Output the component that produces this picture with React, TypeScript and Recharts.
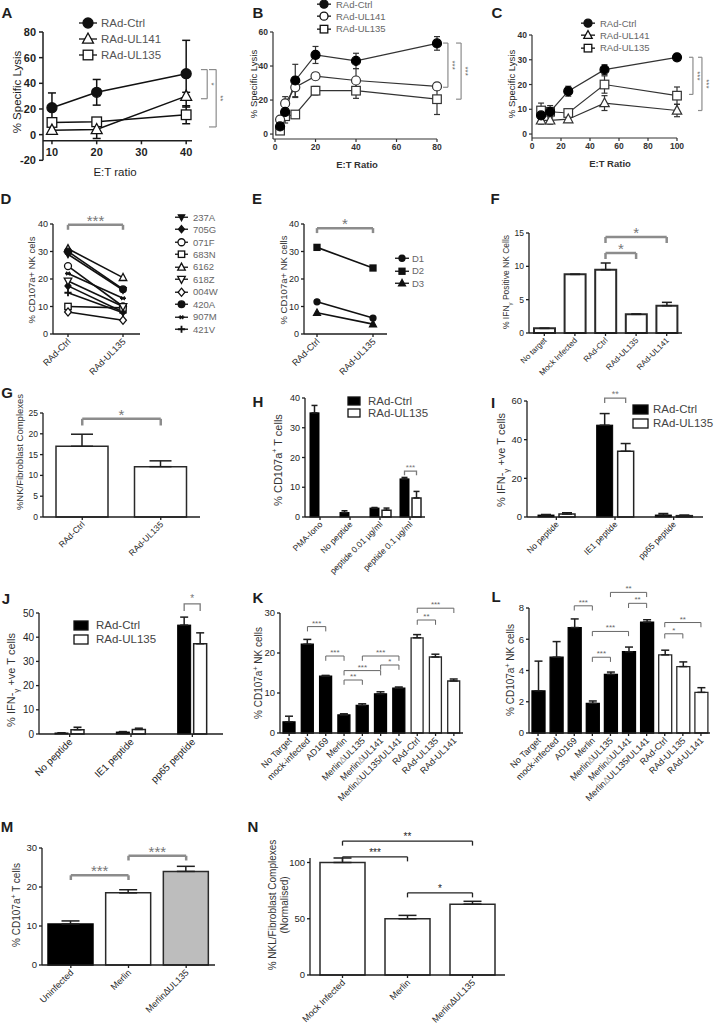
import React from "react";
import {
  LineChart,
  Line,
  BarChart,
  Bar,
  XAxis,
  YAxis,
  ErrorBar,
  ReferenceLine,
  Legend,
  Cell,
} from "recharts";

const FONT = "'Liberation Sans', Arial, Helvetica, sans-serif";
const INK = "#1e1e1e";

// ---- A: specific lysis vs E:T ratio
const aRatio = [10, 20, 40];
const aCtrl = [21, 33, 47.5];
const aCtrlErr = [11.5, 10, 26];
const aUL141 = [3.5, 4, 30];
const aUL141Err = [3, 7, 3];
const aUL135 = [9.5, 10, 15.5];
const aUL135Err = [3, 2, 7];
const aTicksX = [10, 20, 30, 40];
const aTicksY = [-20, 0, 20, 40, 60, 80];

// ---- B
const bRatio = [2.5, 5, 10, 20, 40, 80];
const bCtrl = [4.5, 13, 31.5, 46.5, 43, 53.3];
const bCtrlErr = [2, 4, 9.5, 5, 4.5, 4];
const bUL141 = [8.5, 18, 27.5, 34, 31.5, 28];
const bUL141Err = [1.5, 4, 6, 2, 7, 2];
const bUL135 = [2, 10.5, 11.5, 25.5, 25.5, 20.5];
const bUL135Err = [1, 4, 2, 2.5, 4.5, 9];
const bTicksX = [0, 20, 40, 60, 80];
const bTicksY = [0, 20, 40, 60];

// ---- C
const cRatio = [6.25, 12.5, 25, 50, 100];
const cCtrl = [7.5, 9, 17.3, 26, 31];
const cCtrlErr = [1, 1, 2, 2, 0.5];
const cUL141 = [5.5, 5.5, 6, 12.5, 9.5];
const cUL141Err = [1.5, 1.5, 1, 3, 2.5];
const cUL135 = [9.5, 9, 8.5, 20, 15.5];
const cUL135Err = [3, 2.5, 1.5, 3.5, 3.5];
const cTicksX = [0, 20, 40, 60, 80, 100];
const cTicksY = [0, 10, 20, 30, 40];

// ---- D / E: paired donors
const pairCats = ["RAd-Ctrl", "RAd-UL135"];
const dDonors = ["237A", "705G", "071F", "683N", "6162", "618Z", "004W", "420A", "907M", "421V"];
const dCtrl = [29, 17.5, 24.7, 10, 31, 19.3, 8, 30, 22, 15];
const dUL135 = [16, 8, 10, 9.5, 20.5, 10, 5, 16.3, 13, 7.7];
const eDonors = ["D1", "D2", "D3"];
const eCtrl = [11.7, 31.5, 7.7];
const eUL135 = [5.8, 24, 3.6];
const deTicksY = [0, 10, 20, 30, 40];

// ---- F
const fCats = ["No target", "Mock Infected", "RAd-Ctrl", "RAd-UL135", "RAd-UL141"];
const fVals = [0.7, 8.8, 9.5, 2.8, 4.1];
const fErr = [0, 0, 1, 0.05, 0.5];
const fTicksY = [0, 5, 10, 15];

// ---- G
const gCats = ["RAd-Ctrl", "RAd-UL135"];
const gVals = [17, 12.1];
const gErr = [2.9, 1.4];
const gTicksY = [0, 5, 10, 15, 20, 25];

// ---- H
const hCats = ["PMA-Iono", "No peptide", "peptide 0.01 µg/ml", "peptide 0.1 µg/ml"];
const hCtrl = [35, 1.5, 3, 12.8];
const hCtrlErr = [2.5, 0.6, 0.2, 0.5];
const hUL135 = [0, 0, 2.3, 6.4];
const hUL135Err = [0, 0, 0.7, 2.2];
const hSig = ["", "", "", "***"];
const hSigY = [0, 0, 0, 15.4];
const hTicksY = [0, 10, 20, 30, 40];

// ---- I
const iCats = ["No peptide", "IE1 peptide", "pp65 peptide"];
const iCtrl = [1, 47.5, 1];
const iCtrlErr = [0.3, 6, 0.8];
const iUL135 = [1.5, 34, 0.7];
const iUL135Err = [0.7, 4, 0.3];
const iSig = ["", "**", ""];
const iSigY = [0, 61.5, 0];
const iTicksY = [0, 20, 40, 60];

// ---- J
const jCats = ["No peptide", "IE1 peptide", "pp65 peptide"];
const jCtrl = [0.4, 0.8, 45];
const jCtrlErr = [0.1, 0.2, 3.3];
const jUL135 = [1.8, 1.9, 37.3];
const jUL135Err = [1, 0.5, 4.5];
const jSig = ["", "", "*"];
const jSigY = [0, 0, 53.8];
const jTicksY = [0, 10, 20, 30, 40, 50];

// ---- K / L
const klCats = [
  "No Target",
  "mock-infected",
  "AD169",
  "Merlin",
  "Merlin∆UL135",
  "Merlin∆UL141",
  "Merlin∆UL135/UL141",
  "RAd-Ctrl",
  "RAd-UL135",
  "RAd-UL141",
];
const kVals = [2.8, 22.2, 14.2, 4.5, 6.9, 9.8, 11.2, 23.8, 19, 13];
const kErr = [1.4, 1.2, 0.2, 0.3, 0.4, 0.5, 0.3, 0.8, 0.7, 0.5];
const kTicksY = [0, 10, 20, 30];
const kBrackets = [
  { a: 1, b: 2, y: 26.6, t: "***" },
  { a: 2, b: 3, y: 19.25, t: "***" },
  { a: 3, b: 5, y: 15.6, t: "***" },
  { a: 3, b: 4, y: 13.25, t: "**" },
  { a: 4, b: 6, y: 19.25, t: "***" },
  { a: 5, b: 6, y: 17, t: "*" },
  { a: 7, b: 9, y: 31.2, t: "***" },
  { a: 7, b: 8, y: 28.25, t: "**" },
];
const lVals = [2.7, 4.85, 6.75, 1.9, 3.75, 5.2, 7.1, 5, 4.25, 2.6];
const lErr = [1.9, 1, 0.55, 0.15, 0.15, 0.3, 0.15, 0.3, 0.3, 0.3];
const lTicksY = [0, 2, 4, 6, 8];
const lBrackets = [
  { a: 2, b: 3, y: 8.14, t: "***" },
  { a: 4, b: 6, y: 9.0, t: "**" },
  { a: 5, b: 6, y: 8.3, t: "**" },
  { a: 3, b: 5, y: 6.5, t: "***" },
  { a: 3, b: 4, y: 4.85, t: "***" },
  { a: 7, b: 9, y: 7.07, t: "**" },
  { a: 7, b: 8, y: 6.35, t: "*" },
];

// ---- M / N
const mCats = ["Uninfected", "Merlin", "Merlin∆UL135"];
const mVals = [10.5, 18.5, 24];
const mErr = [0.8, 0.8, 1.3];
const mTicksY = [0, 10, 20, 30];
const mBrackets = [
  { a: 0, b: 1, y: 23, t: "***" },
  { a: 1, b: 2, y: 28, t: "***" },
];
const nCats = ["Mock Infected", "Merlin", "Merlin∆UL135"];
const nVals = [100, 50, 63];
const nErr = [4, 3, 2.5];
const nTicksY = [0, 50, 100];
const nBrackets = [
  { a: 0, b: 2, y: 119, t: "**" },
  { a: 0, b: 1, y: 105, t: "***" },
  { a: 1, b: 2, y: 73, t: "*" },
];

// ---------------- helpers ----------------
type Pad = { l: number; t: number; r: number; b: number };
function frame(x0: number, y0: number, x1: number, y1: number, p: Pad) {
  return {
    left: x0 - p.l,
    top: y0 - p.t,
    width: x1 - x0 + p.l + p.r,
    height: y1 - y0 + p.t + p.b,
    margin: { top: p.t, right: p.r, left: 0, bottom: 0 },
    yw: p.l,
    xh: p.b,
  };
}

function Txt({ x, y, size = 11, bold = false, rot = 0, color = INK, children }: any) {
  return (
    <div
      style={{
        position: "absolute",
        left: x,
        top: y,
        transform: `translate(-50%, -50%) rotate(${rot}deg)`,
        fontSize: size,
        fontWeight: bold ? 700 : 400,
        color,
        whiteSpace: "nowrap",
        lineHeight: 1.15,
        textAlign: "center",
      }}
    >
      {children}
    </div>
  );
}

function Marker({ cx, cy, shape, r, color = "#111", sw = 1.3 }: any) {
  if (cx == null || cy == null) return null;
  const W = "#fff";
  const tri = (s: number) =>
    `${cx},${cy - s * r * 1.15} ${cx - r * 1.05},${cy + s * r * 0.8} ${cx + r * 1.05},${cy + s * r * 0.8}`;
  const dia = `${cx},${cy - r * 1.2} ${cx + r},${cy} ${cx},${cy + r * 1.2} ${cx - r},${cy}`;
  switch (shape) {
    case "dot":
      return <circle cx={cx} cy={cy} r={r} fill={color} stroke={color} strokeWidth={sw} />;
    case "circle":
      return <circle cx={cx} cy={cy} r={r} fill={W} stroke={color} strokeWidth={sw} />;
    case "square":
      return <rect x={cx - r} y={cy - r} width={2 * r} height={2 * r} fill={W} stroke={color} strokeWidth={sw} />;
    case "fsquare":
      return <rect x={cx - r} y={cy - r} width={2 * r} height={2 * r} fill={color} stroke={color} strokeWidth={sw} />;
    case "tri":
      return <polygon points={tri(1)} fill={W} stroke={color} strokeWidth={sw} />;
    case "ftri":
      return <polygon points={tri(1)} fill={color} stroke={color} strokeWidth={sw} />;
    case "itri":
      return <polygon points={tri(-1)} fill={W} stroke={color} strokeWidth={sw} />;
    case "fitri":
      return <polygon points={tri(-1)} fill={color} stroke={color} strokeWidth={sw} />;
    case "diamond":
      return <polygon points={dia} fill={W} stroke={color} strokeWidth={sw} />;
    case "fdiamond":
      return <polygon points={dia} fill={color} stroke={color} strokeWidth={sw} />;
    case "plus":
      return (
        <path d={`M${cx - r},${cy}H${cx + r}M${cx},${cy - r}V${cy + r}`} stroke={color} strokeWidth={sw * 1.4} />
      );
    default:
      return (
        <path
          d={`M${cx - r},${cy}H${cx + r}M${cx - r * 0.6},${cy - r * 0.6}L${cx + r * 0.6},${cy + r * 0.6}M${cx - r * 0.6},${cy + r * 0.6}L${cx + r * 0.6},${cy - r * 0.6}`}
          stroke={color}
          strokeWidth={sw}
        />
      );
  }
}

const dotFn = (shape: string, r: number, color = "#111", sw = 1.3) => (p: any) =>
  <Marker key={`m${p.index}`} cx={p.cx} cy={p.cy} shape={shape} r={r} color={color} sw={sw} />;

function lineLegend(keys: string[], st: Record<string, any>, o: any) {
  return (props: any) => {
    const pl: any[] = props.payload || [];
    const w = o.lineW + 4;
    return (
      <div style={{ fontSize: o.fs, color: o.color || "#555", fontFamily: FONT }}>
        {keys.map((k) => {
          const e = pl.find((q) => q.dataKey === k);
          if (!e) return null;
          const s = st[k];
          return (
            <div key={k} style={{ display: "flex", alignItems: "center", height: o.rowH, whiteSpace: "nowrap" }}>
              <svg width={w} height={o.rowH} style={{ marginRight: o.gap, flex: "none" }}>
                <line x1={2} x2={w - 2} y1={o.rowH / 2} y2={o.rowH / 2} stroke="#111" strokeWidth={1.3} />
                <Marker cx={w / 2} cy={o.rowH / 2} shape={s.shape} r={s.lr ?? s.r} />
              </svg>
              <span>{e.value}</span>
            </div>
          );
        })}
      </div>
    );
  };
}

function barLegend(keys: string[], fills: Record<string, string>, o: any) {
  return (props: any) => {
    const pl: any[] = props.payload || [];
    return (
      <div style={{ fontSize: o.fs, color: "#444", fontFamily: FONT }}>
        {keys.map((k) => {
          const e = pl.find((q) => q.dataKey === k);
          if (!e) return null;
          return (
            <div key={k} style={{ display: "flex", alignItems: "center", height: o.rowH, whiteSpace: "nowrap" }}>
              <svg width={o.sw + 2} height={o.sh + 2} style={{ marginRight: o.gap, flex: "none" }}>
                <rect x={1} y={1} width={o.sw} height={o.sh} fill={fills[k]} stroke="#111" strokeWidth={1.3} />
              </svg>
              <span>{e.value}</span>
            </div>
          );
        })}
      </div>
    );
  };
}

const legendPos = (f: any, x: number, y: number) => ({ left: x - f.left, top: y - f.top, width: "auto" });

const BR_THICK = { c: "#8c8c8c", w: 2.5, fs: 15, tc: "#777", off: -1 };
const BR_THIN = { c: "#666", w: 1, fs: 8, tc: "#666", off: 1 };
const BR_V = { c: "#8c8c8c", w: 1.2, fs: 8, tc: "#666" };

function hBracket(key: string, a: any, b: any, y: number, drop: number, text: string, st: any) {
  const common: any = { stroke: st.c, strokeWidth: st.w, ifOverflow: "visible" };
  return [
    <ReferenceLine
      key={key + "h"}
      segment={[{ x: a, y }, { x: b, y }]}
      {...common}
      label={{ value: text, position: "top", fill: st.tc, fontSize: st.fs, offset: st.off }}
    />,
    <ReferenceLine key={key + "l"} segment={[{ x: a, y }, { x: a, y: y - drop }]} {...common} />,
    <ReferenceLine key={key + "r"} segment={[{ x: b, y }, { x: b, y: y - drop }]} {...common} />,
  ];
}

function vBracket(key: string, x: number, tip: number, y1: number, y2: number, text: string, st: any) {
  const common: any = { stroke: st.c, strokeWidth: st.w, ifOverflow: "visible" };
  const star = (lp: any) => {
    const vb = lp.viewBox || {};
    const cx = (vb.x || 0) + 2;
    const cy = (vb.y || 0) + (vb.height || 0) / 2;
    return (
      <text x={cx} y={cy} transform={`rotate(90 ${cx} ${cy})`} textAnchor="middle" fontSize={st.fs} fill={st.tc}>
        {text}
      </text>
    );
  };
  return [
    <ReferenceLine key={key + "v"} segment={[{ x, y: y1 }, { x, y: y2 }]} {...common} label={{ content: star }} />,
    <ReferenceLine key={key + "t"} segment={[{ x: tip, y: y1 }, { x, y: y1 }]} {...common} />,
    <ReferenceLine key={key + "b"} segment={[{ x: tip, y: y2 }, { x, y: y2 }]} {...common} />,
  ];
}

const rotTick = (fs: number, delta = "#9a9a9a") => (p: any) => {
  const v = String(p.payload.value);
  const i = v.indexOf("∆");
  return (
    <text
      x={p.x}
      y={p.y}
      transform={`rotate(-45 ${p.x} ${p.y})`}
      textAnchor="end"
      dy="0.5em"
      fontSize={fs}
      fill={INK}
    >
      {i < 0 ? (
        v
      ) : (
        <>
          {v.slice(0, i)}
          <tspan fill={delta}>∆</tspan>
          {v.slice(i + 1)}
        </>
      )}
    </text>
  );
};

const axStyle = (w = 1.3, c = INK) => ({ stroke: c, strokeWidth: w });

// ---------------- line panels ----------------
const abcStyle: Record<string, any> = {
  ctrl: { shape: "dot", r: 4.5 },
  ul141: { shape: "tri", r: 4.6 },
  ul141c: { shape: "circle", r: 4.5 },
  ul135: { shape: "square", r: 4.3 },
};

function PanelA() {
  const f = frame(43, 31.7, 192, 160, { l: 40, t: 30, r: 50, b: 30 });
  const rows = aRatio.map((x, i) => ({
    x,
    ctrl: aCtrl[i],
    ctrlErr: aCtrlErr[i],
    ul141: aUL141[i],
    ul141Err: aUL141Err[i],
    ul135: aUL135[i],
    ul135Err: aUL135Err[i],
  }));
  const lift = 20;
  const tick = (p: any) => (
    <g>
      <line x1={p.x} x2={p.x} y1={p.y - lift} y2={p.y - lift + 4} stroke={INK} strokeWidth={1.5} />
      <text x={p.x} y={p.y - lift + 16} textAnchor="middle" fontSize={11} fontWeight={700} fill={INK}>
        {p.payload.value}
      </text>
    </g>
  );
  const st = { ctrl: { shape: "dot", r: 5 }, ul141: { shape: "tri", r: 5.2 }, ul135: { shape: "square", r: 4.8 } };
  return (
    <>
      <div style={{ position: "absolute", left: f.left, top: f.top }}>
        <LineChart width={f.width} height={f.height} data={rows} margin={f.margin}>
          <XAxis
            type="number"
            dataKey="x"
            domain={[8, 41.3]}
            ticks={aTicksX}
            interval={0}
            height={f.xh}
            axisLine={false}
            tickLine={false}
            tickSize={0}
            tickMargin={0}
            tick={tick}
          />
          <YAxis
            type="number"
            domain={[-20, 80]}
            ticks={aTicksY}
            interval={0}
            width={f.yw}
            axisLine={axStyle(1.5)}
            tickLine={axStyle(1.5)}
            tickSize={4}
            tickMargin={3}
            tick={{ fontSize: 11, fontWeight: 700, fill: INK }}
          />
          <ReferenceLine segment={[{ x: 8, y: -4.7 }, { x: 41.3, y: -4.7 }]} stroke={INK} strokeWidth={1.5} ifOverflow="visible" />
          {vBracket("a1", 44.7, 43.3, 50.7, 28, "*", BR_V)}
          {vBracket("a2", 46.7, 45.1, 50.7, 6, "**", BR_V)}
          <Line dataKey="ul135" name="RAd-UL135" stroke="#111" strokeWidth={1.5} isAnimationActive={false} activeDot={false} dot={dotFn("square", 4.8)}>
            <ErrorBar dataKey="ul135Err" direction="y" width={4} stroke="#111" strokeWidth={1.5} isAnimationActive={false} />
          </Line>
          <Line dataKey="ul141" name="RAd-UL141" stroke="#111" strokeWidth={1.5} isAnimationActive={false} activeDot={false} dot={dotFn("tri", 5.2)}>
            <ErrorBar dataKey="ul141Err" direction="y" width={4} stroke="#111" strokeWidth={1.5} isAnimationActive={false} />
          </Line>
          <Line dataKey="ctrl" name="RAd-Ctrl" stroke="#111" strokeWidth={1.5} isAnimationActive={false} activeDot={false} dot={dotFn("dot", 5)}>
            <ErrorBar dataKey="ctrlErr" direction="y" width={4} stroke="#111" strokeWidth={1.5} isAnimationActive={false} />
          </Line>
          <Legend
            layout="vertical"
            align="center"
            verticalAlign="middle"
            wrapperStyle={legendPos(f, 77, 15)}
            content={lineLegend(["ctrl", "ul141", "ul135"], st, { fs: 11.5, rowH: 16, lineW: 18, gap: 2 })}
          />
        </LineChart>
      </div>
      <Txt x={18} y={92} size={11.5} rot={-90}>% Specific Lysis</Txt>
      <Txt x={115} y={173} size={11.5}>E:T ratio</Txt>
    </>
  );
}

function SmallLines({ f, ratio, ctrl, ctrlErr, o141, o141Err, o135, o135Err, xDom, xTicks, yDom, yTicks, shape141, leg, brs }: any) {
  const rows = ratio.map((x: number, i: number) => ({
    x,
    ctrl: ctrl[i],
    ctrlErr: ctrlErr[i],
    ul141: o141[i],
    ul141Err: o141Err[i],
    ul135: o135[i],
    ul135Err: o135Err[i],
  }));
  const st = { ctrl: { shape: "dot", r: 4.5, lr: 4 }, ul141: { shape: shape141, r: 4.5, lr: 4 }, ul135: { shape: "square", r: 4.3, lr: 3.8 } };
  const lc = "#333";
  return (
    <div style={{ position: "absolute", left: f.left, top: f.top }}>
      <LineChart width={f.width} height={f.height} data={rows} margin={f.margin}>
        <XAxis
          type="number"
          dataKey="x"
          domain={xDom}
          ticks={xTicks}
          interval={0}
          height={f.xh}
          axisLine={axStyle(1.2, "#333")}
          tickLine={axStyle(1.2, "#333")}
          tickSize={3}
          tickMargin={2}
          tick={{ fontSize: 8.5, fontWeight: 700, fill: "#333" }}
        />
        <YAxis
          type="number"
          domain={yDom}
          ticks={yTicks}
          interval={0}
          width={f.yw}
          axisLine={axStyle(1.2, "#333")}
          tickLine={axStyle(1.2, "#333")}
          tickSize={3}
          tickMargin={2}
          tick={{ fontSize: 8.5, fontWeight: 700, fill: "#333" }}
        />
        {brs}
        <Line dataKey="ul135" name="RAd-UL135" stroke={lc} strokeWidth={1.2} isAnimationActive={false} activeDot={false} dot={dotFn("square", 4.3, lc, 1.2)}>
          <ErrorBar dataKey="ul135Err" direction="y" width={3} stroke={lc} strokeWidth={1.2} isAnimationActive={false} />
        </Line>
        <Line dataKey="ul141" name="RAd-UL141" stroke={lc} strokeWidth={1.2} isAnimationActive={false} activeDot={false} dot={dotFn(shape141, 4.5, lc, 1.2)}>
          <ErrorBar dataKey="ul141Err" direction="y" width={3} stroke={lc} strokeWidth={1.2} isAnimationActive={false} />
        </Line>
        <Line dataKey="ctrl" name="RAd-Ctrl" stroke={lc} strokeWidth={1.2} isAnimationActive={false} activeDot={false} dot={dotFn("dot", 4.5, "#000", 1.2)}>
          <ErrorBar dataKey="ctrlErr" direction="y" width={3} stroke={lc} strokeWidth={1.2} isAnimationActive={false} />
        </Line>
        <Legend
          layout="vertical"
          align="center"
          verticalAlign="middle"
          wrapperStyle={legendPos(f, leg[0], leg[1])}
          content={lineLegend(["ctrl", "ul141", "ul135"], st, { fs: 9.5, rowH: 12.3, lineW: 14, gap: 3, color: "#666" })}
        />
      </LineChart>
    </div>
  );
}

function PanelB() {
  const f = frame(273, 32, 437, 139, { l: 30, t: 32, r: 40, b: 35 });
  return (
    <>
      <SmallLines
        f={f}
        ratio={bRatio}
        ctrl={bCtrl}
        ctrlErr={bCtrlErr}
        o141={bUL141}
        o141Err={bUL141Err}
        o135={bUL135}
        o135Err={bUL135Err}
        xDom={[-1, 80]}
        xTicks={bTicksX}
        yDom={[-2.9, 60]}
        yTicks={bTicksY}
        shape141="circle"
        leg={[315, -2]}
        brs={[...vBracket("b1", 85.4, 83, 53.5, 27.5, "***", BR_V), ...vBracket("b2", 91.9, 89.4, 53.5, 20.5, "***", BR_V)]}
      />
      <Txt x={254} y={84} size={9.5} rot={-90}>% Specific Lysis</Txt>
      <Txt x={357} y={165} size={9.5} bold color="#333">E:T Ratio</Txt>
    </>
  );
}

function PanelC() {
  const f = frame(532, 35, 677, 138, { l: 30, t: 30, r: 40, b: 35 });
  return (
    <>
      <SmallLines
        f={f}
        ratio={cRatio}
        ctrl={cCtrl}
        ctrlErr={cCtrlErr}
        o141={cUL141}
        o141Err={cUL141Err}
        o135={cUL135}
        o135Err={cUL135Err}
        xDom={[0, 100]}
        xTicks={cTicksX}
        yDom={[-1.6, 40]}
        yTicks={cTicksY}
        shape141="tri"
        leg={[579, 17]}
        brs={[...vBracket("c1", 111, 108.3, 31, 16, "***", BR_V), ...vBracket("c2", 117.2, 114.5, 31, 9.5, "***", BR_V)]}
      />
      <Txt x={512} y={84} size={9.5} rot={-90}>% Specific Lysis</Txt>
      <Txt x={610} y={164} size={9.5} bold color="#333">E:T Ratio</Txt>
    </>
  );
}

// ---------------- paired donor panels ----------------
const dStyle: Record<string, any> = {
  "237A": { shape: "fitri", r: 3 },
  "705G": { shape: "fdiamond", r: 3 },
  "071F": { shape: "circle", r: 3.5 },
  "683N": { shape: "square", r: 3.2 },
  "6162": { shape: "tri", r: 3.6 },
  "618Z": { shape: "itri", r: 3.6 },
  "004W": { shape: "diamond", r: 3.4 },
  "420A": { shape: "dot", r: 3.3 },
  "907M": { shape: "star", r: 3 },
  "421V": { shape: "plus", r: 3.6 },
};
const eStyle: Record<string, any> = {
  D1: { shape: "dot", r: 3 },
  D2: { shape: "fsquare", r: 3 },
  D3: { shape: "ftri", r: 3.3 },
};

function Paired({ f, donors, ctrl, ul, style, pad, br, leg, legOpt }: any) {
  const rows = pairCats.map((cat, j) => {
    const r: any = { cat };
    donors.forEach((d: string, i: number) => (r[d] = j === 0 ? ctrl[i] : ul[i]));
    return r;
  });
  return (
    <div style={{ position: "absolute", left: f.left, top: f.top }}>
      <LineChart width={f.width} height={f.height} data={rows} margin={f.margin}>
        <XAxis
          dataKey="cat"
          type="category"
          scale="point"
          padding={pad}
          interval={0}
          height={f.xh}
          axisLine={axStyle(1.3)}
          tickLine={axStyle(1.3)}
          tickSize={3}
          tickMargin={2}
          tick={rotTick(9)}
        />
        <YAxis
          type="number"
          domain={[0, 40]}
          ticks={deTicksY}
          interval={0}
          width={f.yw}
          axisLine={axStyle(1.3)}
          tickLine={axStyle(1.3)}
          tickSize={3}
          tickMargin={2}
          tick={{ fontSize: 9, fill: INK }}
        />
        {hBracket("pb", pairCats[0], pairCats[1], br.y, 1.8, br.t, BR_THICK)}
        {donors.map((d: string) => (
          <Line
            key={d}
            dataKey={d}
            name={d}
            stroke="#111"
            strokeWidth={1.6}
            isAnimationActive={false}
            activeDot={false}
            dot={dotFn(style[d].shape, style[d].r)}
          />
        ))}
        <Legend
          layout="vertical"
          align="center"
          verticalAlign="middle"
          wrapperStyle={legendPos(f, leg[0], leg[1])}
          content={lineLegend(donors, style, legOpt)}
        />
      </LineChart>
    </div>
  );
}

function PanelD() {
  const f = frame(53, 224, 140, 334, { l: 30, t: 20, r: 90, b: 60 });
  return (
    <>
      <Paired
        f={f}
        donors={dDonors}
        ctrl={dCtrl}
        ul={dUL135}
        style={dStyle}
        pad={{ left: 15, right: 17 }}
        br={{ y: 39.7, t: "***" }}
        leg={[173, 211]}
        legOpt={{ fs: 9.5, rowH: 12.45, lineW: 13, gap: 3, color: "#666" }}
      />
      <Txt x={32} y={280} size={9.5} rot={-90} color="#333">% CD107a+ NK cels</Txt>
    </>
  );
}

function PanelE() {
  const f = frame(304, 224, 387, 334, { l: 30, t: 20, r: 60, b: 60 });
  return (
    <>
      <Paired
        f={f}
        donors={eDonors}
        ctrl={eCtrl}
        ul={eUL135}
        style={eStyle}
        pad={{ left: 13, right: 14 }}
        br={{ y: 38.5, t: "*" }}
        leg={[393, 252]}
        legOpt={{ fs: 9.5, rowH: 12.5, lineW: 14, gap: 1, color: "#666" }}
      />
      <Txt x={284} y={280} size={9.5} rot={-90} color="#333">% CD107a+ NK cells</Txt>
    </>
  );
}

// ---------------- bar panels ----------------
function SimpleBars({ rect, pad, cats, vals, errs, fills, domain, ticks, barSize, sw = 1.5, tickFs = 9, catFs = 9, errW = 5, brackets = [], drop = 1, br, delta }: any) {
  const f = frame(rect[0], rect[1], rect[2], rect[3], pad);
  const rows = cats.map((cat: string, i: number) => ({ cat, v: vals[i], e: [0, errs[i]] }));
  return (
    <div style={{ position: "absolute", left: f.left, top: f.top }}>
      <BarChart width={f.width} height={f.height} data={rows} margin={f.margin}>
        <XAxis
          dataKey="cat"
          interval={0}
          height={f.xh}
          axisLine={axStyle(1.3)}
          tickLine={axStyle(1.3)}
          tickSize={3}
          tickMargin={2}
          tick={rotTick(catFs, delta)}
        />
        <YAxis
          type="number"
          domain={domain}
          ticks={ticks}
          interval={0}
          width={f.yw}
          axisLine={axStyle(1.3)}
          tickLine={axStyle(1.3)}
          tickSize={3}
          tickMargin={2}
          tick={{ fontSize: tickFs, fill: INK }}
        />
        <Bar dataKey="v" barSize={barSize} stroke={INK} strokeWidth={sw} isAnimationActive={false}>
          {rows.map((r: any, i: number) => (
            <Cell key={r.cat} fill={fills[i]} stroke={fills[i] === "#000" ? "#000" : "#2a2a2a"} />
          ))}
          <ErrorBar dataKey="e" direction="y" width={errW} stroke={INK} strokeWidth={1.5} isAnimationActive={false} />
        </Bar>
        {brackets.map((b: any, i: number) => hBracket(`k${i}`, cats[b.a], cats[b.b], b.y, drop, b.t, br))}
      </BarChart>
    </div>
  );
}

function GroupBars({ rect, pad, cats, ctrl, ctrlErr, ul, ulErr, sig, sigY, drop, domain, ticks, barSize, barGap, tickFs, catFs, errW, leg, legOpt, sigFs }: any) {
  const f = frame(rect[0], rect[1], rect[2], rect[3], pad);
  const rows = cats.map((cat: string, i: number) => ({
    cat,
    ctrl: ctrl[i],
    ctrlE: [0, ctrlErr[i]],
    ul: ul[i],
    ulE: [0, ulErr[i]],
    sig: sig[i],
    sigY: sigY[i],
  }));
  const shape = (p: any) => {
    const { x, y, width, height, payload } = p;
    const out = [<rect key="r" x={x} y={y} width={width} height={Math.max(height, 0)} fill="#000" stroke="#000" strokeWidth={1} />];
    if (payload && payload.sig && payload.ctrl > 0) {
      const k = height / payload.ctrl;
      const base = y + height;
      const yb = base - payload.sigY * k;
      const yd = yb + drop * k;
      const x1 = x + width / 2;
      const x2 = x1 + width + barGap;
      out.push(<path key="b" d={`M${x1},${yd}V${yb}H${x2}V${yd}`} fill="none" stroke="#7a7a7a" strokeWidth={1.3} />);
      out.push(
        <text key="t" x={(x1 + x2) / 2} y={yb - 1.5} textAnchor="middle" fontSize={sigFs} fill="#777">
          {payload.sig}
        </text>
      );
    }
    return <g>{out}</g>;
  };
  return (
    <div style={{ position: "absolute", left: f.left, top: f.top }}>
      <BarChart width={f.width} height={f.height} data={rows} margin={f.margin} barGap={barGap}>
        <XAxis
          dataKey="cat"
          interval={0}
          height={f.xh}
          axisLine={axStyle(1.3)}
          tickLine={axStyle(1.3)}
          tickSize={3}
          tickMargin={2}
          tick={rotTick(catFs)}
        />
        <YAxis
          type="number"
          domain={domain}
          ticks={ticks}
          interval={0}
          width={f.yw}
          axisLine={axStyle(1.3)}
          tickLine={axStyle(1.3)}
          tickSize={3}
          tickMargin={2}
          tick={{ fontSize: tickFs, fill: INK }}
        />
        <Bar dataKey="ctrl" name="RAd-Ctrl" barSize={barSize} fill="#000" isAnimationActive={false} shape={shape}>
          <ErrorBar dataKey="ctrlE" direction="y" width={errW} stroke={INK} strokeWidth={1.5} isAnimationActive={false} />
        </Bar>
        <Bar dataKey="ul" name="RAd-UL135" barSize={barSize} fill="#fff" stroke="#222" strokeWidth={1.5} isAnimationActive={false}>
          <ErrorBar dataKey="ulE" direction="y" width={errW} stroke={INK} strokeWidth={1.5} isAnimationActive={false} />
        </Bar>
        <Legend
          layout="vertical"
          align="center"
          verticalAlign="middle"
          wrapperStyle={legendPos(f, leg[0], leg[1])}
          content={barLegend(["ctrl", "ul"], { ctrl: "#000", ul: "#fff" }, legOpt)}
        />
      </BarChart>
    </div>
  );
}

const fFills = fCats.map(() => "#fff");
const gFills = gCats.map(() => "#fff");
const klFills = klCats.map((c) => (c.startsWith("RAd") ? "#fff" : "#000"));
const mFills = ["#000", "#fff", "#bdbdbd"];
const nFills = nCats.map(() => "#fff");

export default function App() {
  return (
    <div
      style={{
        position: "absolute",
        left: 0,
        top: 0,
        width: 720,
        height: 1029,
        background: "#fff",
        fontFamily: FONT,
        color: INK,
        overflow: "hidden",
      }}
    >
      <PanelA />
      <PanelB />
      <PanelC />
      <PanelD />
      <PanelE />

      <SimpleBars
        rect={[529, 233, 682, 333]}
        pad={{ l: 25, t: 20, r: 15, b: 60 }}
        cats={fCats}
        vals={fVals}
        errs={fErr}
        fills={fFills}
        domain={[0, 15]}
        ticks={fTicksY}
        barSize={21}
        sw={2}
        tickFs={8.5}
        catFs={8}
        errW={5}
        brackets={[
          { a: 2, b: 4, y: 14.4, t: "*" },
          { a: 2, b: 3, y: 12, t: "*" },
        ]}
        drop={0.9}
        br={BR_THICK}
      />
      <Txt x={508} y={282} size={8.5} rot={-90} color="#333">
        % IFN<sub style={{ fontSize: 6 }}>γ</sub> Positive NK Cells
      </Txt>

      <SimpleBars
        rect={[43, 413, 200, 517]}
        pad={{ l: 25, t: 15, r: 15, b: 60 }}
        cats={gCats}
        vals={gVals}
        errs={gErr}
        fills={gFills}
        domain={[0, 25]}
        ticks={gTicksY}
        barSize={52}
        sw={1.5}
        tickFs={8.5}
        catFs={8.5}
        errW={11}
        brackets={[{ a: 0, b: 1, y: 23.6, t: "*" }]}
        drop={1.6}
        br={BR_THICK}
      />
      <Txt x={20} y={452} size={9.5} rot={-90} color="#333">%NK/Fibroblast Complexes</Txt>

      <GroupBars
        rect={[305, 398, 425, 517]}
        pad={{ l: 25, t: 15, r: 90, b: 70 }}
        cats={hCats}
        ctrl={hCtrl}
        ctrlErr={hCtrlErr}
        ul={hUL135}
        ulErr={hUL135Err}
        sig={hSig}
        sigY={hSigY}
        drop={1.4}
        domain={[0, 40]}
        ticks={hTicksY}
        barSize={9}
        barGap={3}
        tickFs={9}
        catFs={8.5}
        errW={3}
        sigFs={8}
        leg={[347, 395]}
        legOpt={{ fs: 11.5, rowH: 12, sw: 12, sh: 8, gap: 7 }}
      />
      <Txt x={278} y={460} size={11} rot={-90} color="#333">
        % CD107a<sup style={{ fontSize: 7 }}>+</sup> T cells
      </Txt>

      <GroupBars
        rect={[527, 401, 703, 517]}
        pad={{ l: 25, t: 15, r: 15, b: 60 }}
        cats={iCats}
        ctrl={iCtrl}
        ctrlErr={iCtrlErr}
        ul={iUL135}
        ulErr={iUL135Err}
        sig={iSig}
        sigY={iSigY}
        drop={2.5}
        domain={[0, 60]}
        ticks={iTicksY}
        barSize={16}
        barGap={5}
        tickFs={9.5}
        catFs={8.5}
        errW={5}
        sigFs={9}
        leg={[632, 402]}
        legOpt={{ fs: 11.5, rowH: 14, sw: 15, sh: 9, gap: 4 }}
      />
      <Txt x={503} y={460} size={11} rot={-90} color="#333">
        % IFN-<sub style={{ fontSize: 8 }}>γ</sub> +ve T cells
      </Txt>

      <GroupBars
        rect={[39, 613, 223, 734]}
        pad={{ l: 25, t: 20, r: 15, b: 60 }}
        cats={jCats}
        ctrl={jCtrl}
        ctrlErr={jCtrlErr}
        ul={jUL135}
        ulErr={jUL135Err}
        sig={jSig}
        sigY={jSigY}
        drop={3}
        domain={[0, 50]}
        ticks={jTicksY}
        barSize={13}
        barGap={3}
        tickFs={10}
        catFs={10}
        errW={4}
        sigFs={10}
        leg={[73, 618]}
        legOpt={{ fs: 11.5, rowH: 14, sw: 14, sh: 9, gap: 7 }}
      />
      <Txt x={13} y={680} size={11} rot={-90} color="#333">
        % IFN-<sub style={{ fontSize: 8 }}>γ</sub> +ve T cells
      </Txt>

      <SimpleBars
        rect={[280, 613, 463, 733]}
        pad={{ l: 25, t: 25, r: 15, b: 95 }}
        cats={klCats}
        vals={kVals}
        errs={kErr}
        fills={klFills}
        domain={[0, 30]}
        ticks={kTicksY}
        barSize={12}
        sw={1.3}
        tickFs={9.5}
        catFs={9}
        errW={4}
        brackets={kBrackets}
        drop={1.2}
        br={BR_THIN}
      />
      <Txt x={258} y={673} size={10} rot={-90} color="#333">
        % CD107a<sup style={{ fontSize: 7 }}>+</sup> NK cells
      </Txt>

      <SimpleBars
        rect={[529, 608, 710, 733]}
        pad={{ l: 25, t: 25, r: 8, b: 95 }}
        cats={klCats}
        vals={lVals}
        errs={lErr}
        fills={klFills}
        domain={[0, 8]}
        ticks={lTicksY}
        barSize={13}
        sw={1.3}
        tickFs={9.5}
        catFs={9}
        errW={4}
        brackets={lBrackets}
        drop={0.3}
        br={BR_THIN}
      />
      <Txt x={510} y={670} size={10} rot={-90} color="#333">
        % CD107a<sup style={{ fontSize: 7 }}>+</sup> NK cells
      </Txt>

      <SimpleBars
        rect={[42, 848, 215, 965]}
        pad={{ l: 25, t: 20, r: 15, b: 60 }}
        cats={mCats}
        vals={mVals}
        errs={mErr}
        fills={mFills}
        domain={[0, 30]}
        ticks={mTicksY}
        barSize={45}
        sw={1.5}
        tickFs={9.5}
        catFs={9}
        errW={9}
        brackets={mBrackets}
        drop={1.2}
        br={BR_THICK}
        delta={INK}
      />
      <Txt x={16} y={905} size={10} rot={-90} color="#333">
        % CD107a<sup style={{ fontSize: 7 }}>+</sup> T cells
      </Txt>

      <SimpleBars
        rect={[310, 858, 505, 975]}
        pad={{ l: 25, t: 35, r: 15, b: 50 }}
        cats={nCats}
        vals={nVals}
        errs={nErr}
        fills={nFills}
        domain={[0, 100]}
        ticks={nTicksY}
        barSize={45}
        sw={1.5}
        tickFs={9.5}
        catFs={9}
        errW={9}
        brackets={nBrackets}
        drop={4}
        br={{ c: "#222", w: 1.3, fs: 10, tc: "#222", off: 1 }}
        delta={INK}
      />
      <Txt x={278} y={905} size={10} rot={-90} color="#333">
        % NKL/Fibroblast Complexes
        <br />
        (Normalised)
      </Txt>

      <Txt x={7} y={13} size={15} bold>A</Txt>
      <Txt x={258} y={13} size={15} bold>B</Txt>
      <Txt x={497} y={13} size={15} bold>C</Txt>
      <Txt x={6} y={199} size={15} bold>D</Txt>
      <Txt x={257} y={199} size={15} bold>E</Txt>
      <Txt x={495} y={199} size={15} bold>F</Txt>
      <Txt x={7} y={393} size={15} bold>G</Txt>
      <Txt x={258} y={402} size={15} bold>H</Txt>
      <Txt x={493} y={403} size={15} bold>I</Txt>
      <Txt x={6} y={599} size={15} bold>J</Txt>
      <Txt x={258} y={598} size={15} bold>K</Txt>
      <Txt x={496} y={597} size={15} bold>L</Txt>
      <Txt x={7} y={827} size={15} bold>M</Txt>
      <Txt x={253} y={827} size={15} bold>N</Txt>
    </div>
  );
}
